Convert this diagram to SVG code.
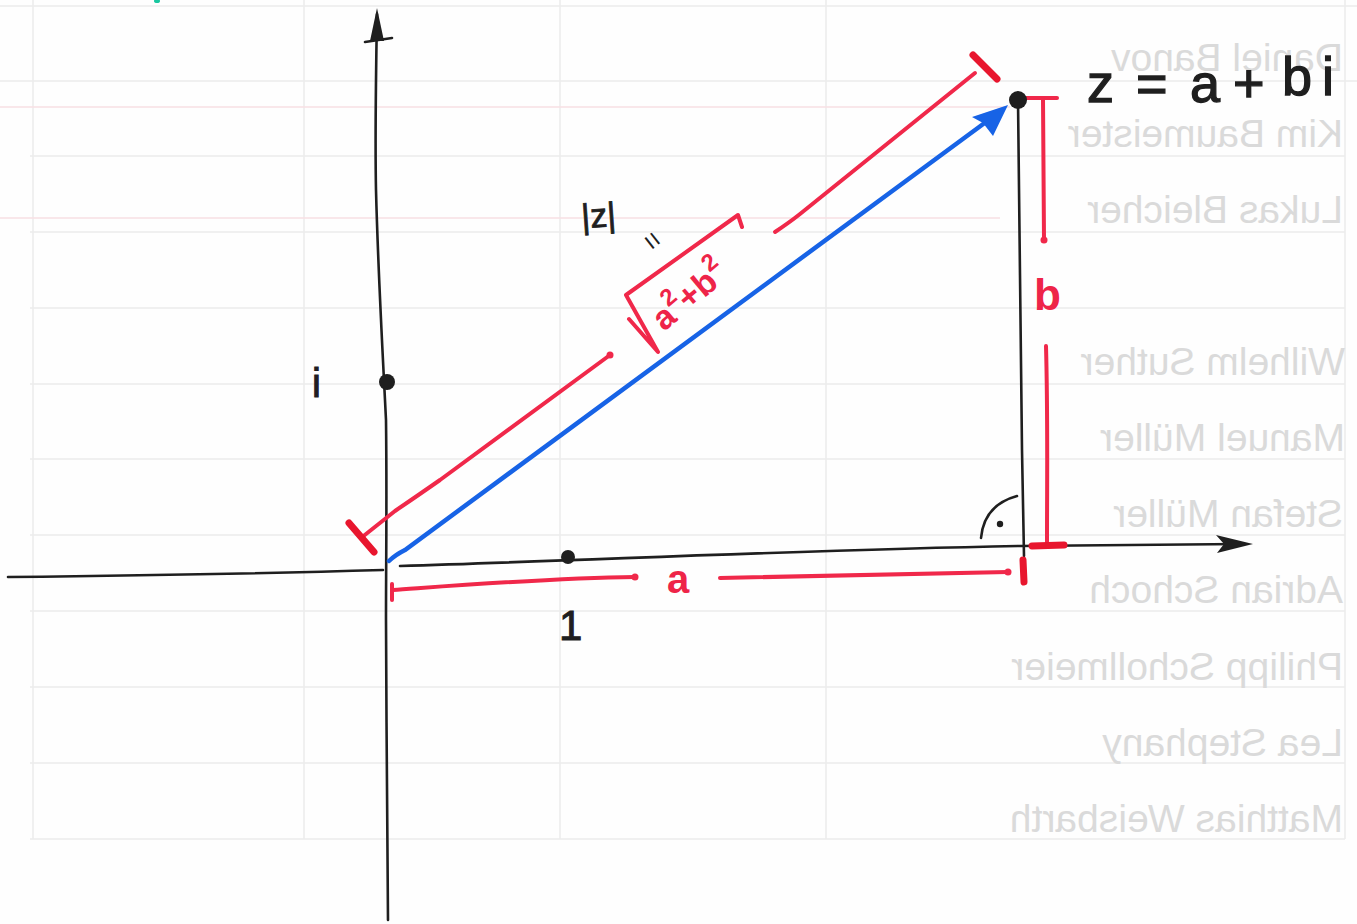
<svg xmlns="http://www.w3.org/2000/svg" width="1357" height="924" viewBox="0 0 1357 924">
<defs>
<style>
.grid{stroke:#ececec;stroke-width:1.5;fill:none}
.pink{stroke:#f7dfe3;stroke-width:1.5;fill:none}
.ghost{font-family:"Liberation Sans",Arial,sans-serif;font-size:39px;fill:#dadada}
.ink{stroke:#1f1f1f;stroke-width:2.6;fill:none;stroke-linecap:round;stroke-linejoin:round}
.red{stroke:#f0284a;stroke-width:4;fill:none;stroke-linecap:round;stroke-linejoin:round}
.redbar{stroke:#e8162e;stroke-width:7;fill:none;stroke-linecap:round}
.blue{stroke:#1763e6;stroke-width:4.5;fill:none;stroke-linecap:round}
.dot{fill:#1f1f1f}
.lblk{font-family:"Liberation Sans",Arial,sans-serif;fill:#1f1f1f}
.lred{font-family:"Liberation Sans",Arial,sans-serif;fill:#ee2448;font-weight:bold}
</style>
</defs>
<rect width="1357" height="924" fill="#fefefe"/>

<g id="paper-bleed">
<path class="grid" d="M0,6 H1357 M0,81 H1357 M30,156 H1345 M30,232 H1345 M30,308 H1345 M30,384 H1345 M30,459 H1345 M30,535 H1345 M30,611 H1345 M30,687 H1345 M30,763 H1345 M30,839 H1345"/>
<path class="grid" d="M33,0 V839 M304,0 V839 M560,0 V839 M826,0 V839 M1345,0 V839"/>
<path class="pink" d="M0,107 H1010 M0,218 H1000"/>
<g transform="scale(-1,1)">
<text class="ghost" x="-1343" y="71">Daniel Banov</text>
<text class="ghost" x="-1343" y="147">Kim Baumeister</text>
<text class="ghost" x="-1343" y="223">Lukas Bleicher</text>
<text class="ghost" x="-1345" y="375">Wilhelm Suther</text>
<text class="ghost" x="-1345" y="451">Manuel Müller</text>
<text class="ghost" x="-1343" y="527">Stefan Müller</text>
<text class="ghost" x="-1343" y="603">Adrian Schoch</text>
<text class="ghost" x="-1343" y="680">Philipp Schollmeier</text>
<text class="ghost" x="-1343" y="756">Lea Stephany</text>
<text class="ghost" x="-1343" y="832">Matthias Weisbarth</text>
</g>
<ellipse cx="157" cy="1" rx="3" ry="2" fill="#19c7a0"/>
</g>

<g id="connectors">
<g id="y-axis">
<path class="ink" d="M377,14 C376,70 375,140 376,190 C378,270 382,340 386,420 C387,500 386,560 386,620 C386,720 388,830 388,920"/>
<path d="M377,8 L370,41 L384,41 Z" fill="#1f1f1f"/>
<path class="ink" d="M365,42 L392,38" stroke-width="3.5"/>
</g>
<g id="x-axis">
<path class="ink" d="M8,577 C100,576 250,574 383,570"/>
<path class="ink" d="M400,566 C600,560 800,550 1020,546 L1240,544"/>
<path d="M1253,544 L1216,535 L1224,544 L1217,553 Z" fill="#1f1f1f"/>
</g>
<path id="z-drop" class="ink" d="M1018,100 C1019,200 1021,350 1022,450 L1024,556"/>
<g id="vector-z">
<path class="blue" d="M389,561 Q395,555 405,550 L990,119"/>
<path d="M1008,105 L972,117 L983,123 L993,136 Z" fill="#1763e6"/>
</g>
<g id="dim-modulus">
<path class="red" d="M361,538 L395,511 Q420,494 440,480 L610,355"/>
<circle cx="610" cy="355" r="3.5" fill="#f0284a"/>
<path class="redbar" d="M349,523 L374,552" stroke-width="5"/>
<path class="red" d="M775,232 Q790,222 800,214 L975,73"/>
<path class="redbar" d="M973,55 L997,79"/>
</g>
<g id="dim-a">
<path class="red" d="M392,584 L392,600" stroke-width="3"/>
<path class="red" d="M393,590 C450,586 550,578 635,577"/>
<circle cx="635" cy="577" r="3.5" fill="#f0284a"/>
<path class="red" d="M720,578 L1008,572"/>
<circle cx="1008" cy="572" r="3.5" fill="#f0284a"/>
<path class="redbar" d="M1023,560 L1024,582"/>
</g>
<g id="dim-b">
<path class="red" d="M1026,98 L1057,98"/>
<path class="red" d="M1043,99 L1044,240"/>
<circle cx="1044" cy="240" r="3.5" fill="#f0284a"/>
<path class="red" d="M1046,346 C1048,420 1047,480 1047,543"/>
<path class="redbar" d="M1032,546 L1064,545"/>
</g>
<g id="right-angle">
<path class="ink" d="M981,538 Q984,505 1017,496" stroke-width="2.4"/>
<circle cx="1000" cy="524" r="3.2" fill="#1f1f1f"/>
</g>
</g>

<g id="node-one">
<circle class="dot" cx="568" cy="557" r="7"/>
<text class="lblk" x="559" y="640" font-size="42" stroke="#1f1f1f" stroke-width="1">1</text>
</g>
<g id="node-i">
<circle class="dot" cx="387" cy="382" r="8"/>
<text class="lblk" x="312" y="397" font-size="40" stroke="#1f1f1f" stroke-width="1">i</text>
</g>
<g id="node-z">
<circle class="dot" cx="1018" cy="100" r="9"/>
<text class="lblk" font-size="54" y="102" stroke="#1f1f1f" stroke-width="1.3"><tspan x="1087">z</tspan><tspan x="1136">=</tspan><tspan x="1190">a</tspan><tspan x="1233">+</tspan><tspan x="1282" y="95">b</tspan><tspan x="1322" y="95">i</tspan></text>
</g>
<g id="label-modulus">
<text class="lblk" x="581" y="227" font-size="34" stroke="#1f1f1f" stroke-width="0.8" transform="rotate(-4 600 212)">|z|</text>
<text class="lblk" x="0" y="0" font-size="28" transform="translate(640,240) rotate(52)">=</text>
<path class="red" d="M629,319 L658,352 L626,295 L738,215 L742,227" stroke-width="3.8"/>
<text class="lred" font-size="34" transform="translate(664,332) rotate(-40)">a<tspan font-size="24" dy="-16">2</tspan><tspan dy="16">+</tspan>b<tspan font-size="24" dy="-16">2</tspan></text>
</g>
<g id="label-a"><text class="lred" x="667" y="593" font-size="40">a</text></g>
<g id="label-b"><text class="lred" x="1034" y="310" font-size="44">b</text></g>
</svg>
